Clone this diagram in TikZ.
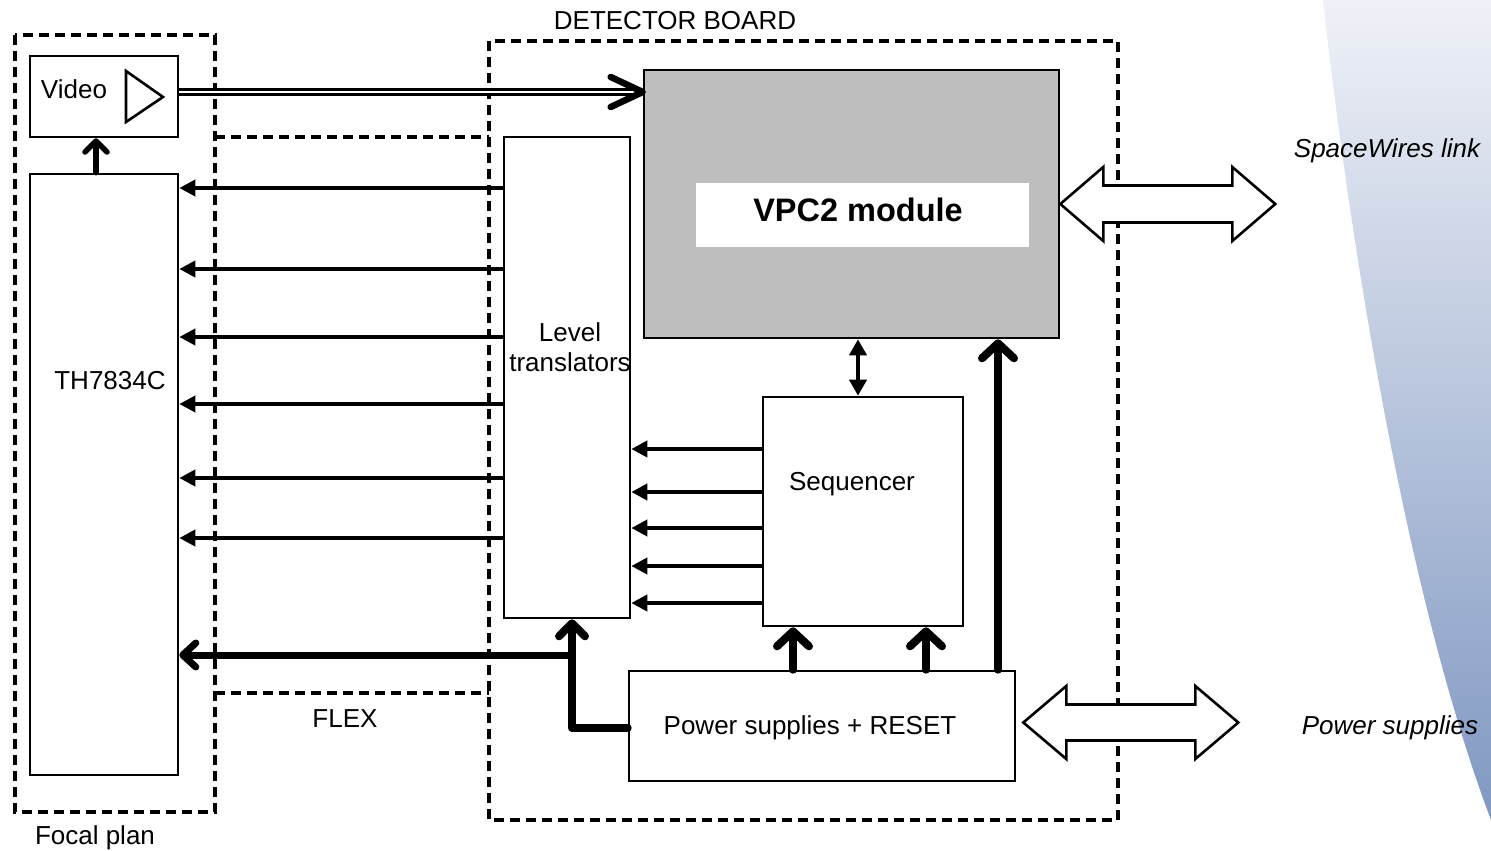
\documentclass[tikz,border=0pt]{standalone}
\usepackage{fontspec}
\setmainfont{Liberation Sans}
\usetikzlibrary{arrows.meta,calc}
\definecolor{hatchgray}{HTML}{BEBEBE}
\definecolor{bluetop}{HTML}{EFF1F7}
\definecolor{bluebot}{HTML}{8098C2}
\begin{document}
\begin{tikzpicture}[x=1pt,y=-1pt,
  box/.style={draw, line width=2.6pt, inner sep=0pt, fill=white},
  zone/.style={draw, line width=3.2pt, dash pattern=on 10pt off 6pt},
  lbl/.style={font=\fontsize{26}{30}\selectfont, inner sep=0pt, text height=18.6pt, text depth=0pt},
  thinarrow/.style={line width=3.8pt, -{Triangle[length=16pt,width=16pt]}},
  thickarrow/.style={line width=8pt, line cap=round, line join=round, -{Straight Barb[round,length=15pt,width=32pt]}},
  blockarrow/.style={draw, line width=2.6pt, fill=white, line join=miter}]
\useasboundingbox (0,0) rectangle (1491,851);
% background shape
\shade[top color=bluetop, bottom color=bluebot] (1323,0) .. controls (1345,200) and (1400,580) .. (1491,820) -- (1491,0) -- cycle;

% zones
\draw[zone] (15,35) rectangle (215,812);
\draw[zone] (489,41) rectangle (1118,820);
\draw[zone] (215,137) -- (489,137);
\draw[zone] (215,693) -- (489,693);

% boxes
\node[box, minimum width=148pt, minimum height=81pt] (video) at (104,96.5) {};
\node[box, minimum width=148pt, minimum height=601pt] (th) at (104,474.5) {};
\node[box, minimum width=126pt, minimum height=481pt] (lt) at (567,377.5) {};
\node[box, fill=hatchgray, minimum width=415pt, minimum height=268pt] (vpc) at (851.5,204) {};
\node[fill=white, inner sep=0pt, minimum width=333pt, minimum height=64pt] (vpcin) at (862.5,215) {};
\node[box, minimum width=200pt, minimum height=229pt] (seq) at (863,511.5) {};
\node[box, minimum width=386pt, minimum height=110pt] (ps) at (822,726) {};

% amplifier triangle
\draw[line width=2.6pt, line join=miter] (126,71) -- (163,97) -- (126,122) -- cycle;

% labels
\node[lbl, font=\fontsize{32.5}{36}\selectfont\bfseries, text height=23.3pt] (tvpc) at (858,210) {VPC2 module};
\node[lbl] (tvideo) at (74,89) {Video};
\node[lbl] (tth) at (110,380) {TH7834C};
\node[lbl, align=center] (tlt) at (570,362) {Level\\translators};
\node[lbl] (tseq) at (852,481) {Sequencer};
\node[lbl] (tps) at (810,725) {Power supplies + RESET};
\node[lbl] (tflex) at (345,718) {FLEX};
\node[lbl] (tfocal) at (95,835) {Focal plan};
\node[lbl] (tdet) at (675,20) {DETECTOR BOARD};
\node[lbl, font=\fontsize{26}{30}\selectfont\itshape] (tsw) at (1387,148) {SpaceWires link};
\node[lbl, font=\fontsize{26}{30}\selectfont\itshape] (tpow) at (1390,725) {Power supplies};

% video output double line
\coordinate (vin) at (vpc.west |- 0,92);
\draw[line width=2.4pt, double distance=2.6pt] (video.east |- vin) -- ($(vin)+(-8,0)$);
\draw[line width=6.5pt, line cap=round, line join=round] ($(vin)+(-32,-15)$) -- (vin) -- ($(vin)+(-32,15)$);

% TH -> video
\draw[line width=5.5pt, line cap=round, line join=round, -{Straight Barb[round,length=11pt,width=22pt]}] (th.north -| 96,0) -- (video.south -| 96,0);

% level translators -> TH
\foreach \yy in {188,269,337,404,478,538}
  \draw[thinarrow] (lt.west |- 0,\yy) -- (th.east |- 0,\yy);

% sequencer -> level translators
\foreach \yy in {449,492,528,566,603}
  \draw[thinarrow] (seq.west |- 0,\yy) -- (lt.east |- 0,\yy);

% sequencer <-> VPC2
\draw[line width=3.8pt, {Triangle[length=16pt,width=17pt]}-{Triangle[length=16pt,width=17pt]}] (seq.north -| 858,0) -- (vpc.south -| 858,0);

% power supplies
\draw[thickarrow] (ps.north -| 793,0) -- (seq.south -| 793,0);
\draw[thickarrow] (ps.north -| 926,0) -- (seq.south -| 926,0);
\draw[thickarrow] (ps.north -| 998,0) -- (vpc.south -| 998,0);
\draw[thickarrow, -{Straight Barb[round,length=13pt,width=26pt]}] (ps.west |- 0,728) -| (lt.south -| 572,0);
\coordinate (br) at (572,655);
\draw[line width=7pt, line cap=round, line join=round, -{Straight Barb[round,length=13pt,width=24pt]}] (br) -- (th.east |- br);

% block arrows
\coordinate (swl) at (vpc.east |- 0,204);
\draw[blockarrow] (swl) -- ++(43,-37) -- ++(0,18.5) -- ++(129,0) -- ++(0,-18.5) -- ++(43,37) -- ++(-43,37) -- ++(0,-18.5) -- ++(-129,0) -- ++(0,18.5) -- cycle;
\coordinate (pwl) at ($(ps.east |- 0,722.5)+(7,0)$);
\draw[blockarrow] (pwl) -- ++(43,-36.5) -- ++(0,18.5) -- ++(129,0) -- ++(0,-18.5) -- ++(43,36.5) -- ++(-43,36.5) -- ++(0,-18.5) -- ++(-129,0) -- ++(0,18.5) -- cycle;
\end{tikzpicture}
\end{document}
